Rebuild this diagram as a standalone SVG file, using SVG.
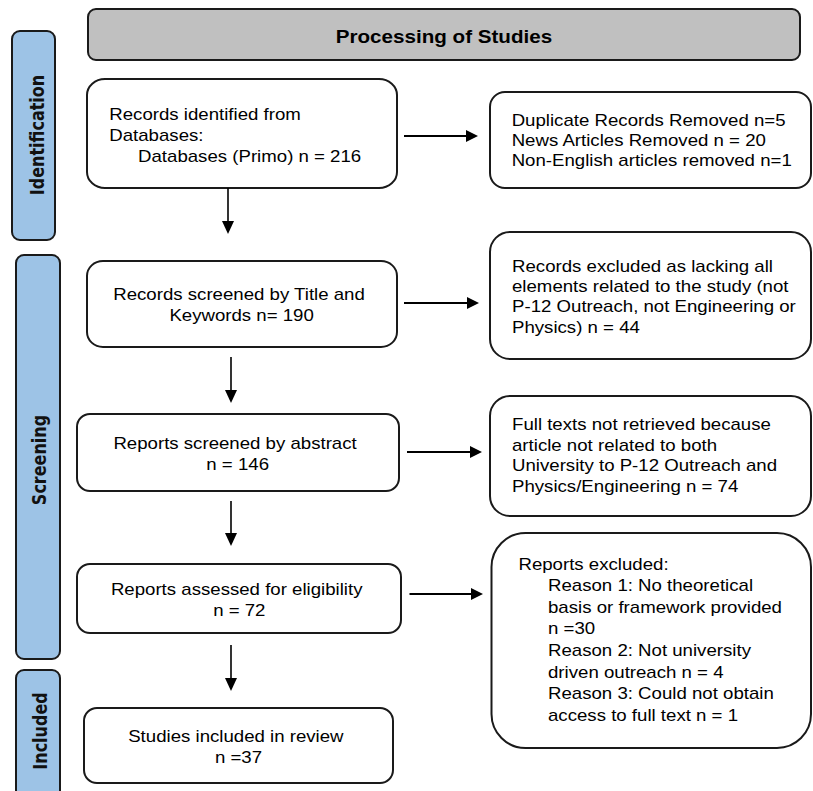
<svg xmlns="http://www.w3.org/2000/svg" width="813" height="791" viewBox="0 0 813 791">
<defs>
<style>
.box{fill:#ffffff;stroke:#1a1a1a;stroke-width:2}
.pill{fill:#9dc3e6;stroke:#1a1a1a;stroke-width:2}
.hdr{fill:#c0c0c0;stroke:#1a1a1a;stroke-width:2}
.t{font-family:"Liberation Sans",Arial,sans-serif;font-size:16px;fill:#000}
.c{text-anchor:middle}
.h{font-family:"Liberation Sans",Arial,sans-serif;font-size:17.7px;font-weight:bold;fill:#000;text-anchor:middle}
.side{font-family:"DejaVu Sans",Verdana,sans-serif;font-size:16px;font-weight:bold;fill:#111;text-anchor:middle}
.ah{stroke:#000;stroke-width:2;fill:none}
.av{stroke:#000;stroke-width:1.6;fill:none}
</style>
<marker id="mh" markerUnits="userSpaceOnUse" markerWidth="13" markerHeight="13" refX="6" refY="6" orient="auto" overflow="visible">
<path d="M0,0 L12,6 L0,12 z" fill="#000"/>
</marker>
<marker id="mv" markerUnits="userSpaceOnUse" markerWidth="14" markerHeight="12" refX="6" refY="6" orient="auto" overflow="visible">
<path d="M0,0 L13,6 L0,12 z" fill="#000"/>
</marker>
</defs>

<g id="stage-identification">
<rect class="pill" x="12" y="31" width="43" height="209" rx="8" ry="8"/>
<text class="side" transform="translate(43.5,135) scale(1.165,1) rotate(-90)" x="0" y="0">Identification</text>
</g>
<g id="stage-screening">
<rect class="pill" x="16" y="255" width="44" height="404" rx="8" ry="8"/>
<text class="side" transform="translate(45.5,460) scale(1.165,1) rotate(-90)" x="0" y="0">Screening</text>
</g>
<g id="stage-included">
<rect class="pill" x="16" y="670" width="44" height="140" rx="8" ry="8"/>
<text class="side" transform="translate(46.5,731) scale(1.165,1) rotate(-90)" x="0" y="0">Included</text>
</g>

<g id="header">
<rect class="hdr" x="88" y="9" width="712" height="51" rx="8" ry="8"/>
<text class="h" transform="scale(1.165,1)" x="381.1" y="43">Processing of Studies</text>
</g>

<g id="records-identified">
<rect class="box" x="87" y="79" width="310" height="109" rx="18" ry="16"/>
<text class="t" transform="scale(1.165,1)">
<tspan x="93.8" y="120">Records identified from</tspan>
<tspan x="93.8" y="141.5">Databases:</tspan>
<tspan x="118.5" y="162.5">Databases (Primo) n = 216</tspan>
</text>
</g>

<g id="duplicates-removed">
<rect class="box" x="490" y="92" width="321" height="96" rx="15" ry="15"/>
<text class="t" transform="scale(1.165,1)">
<tspan x="439.2" y="126.5">Duplicate Records Removed n=5</tspan>
<tspan x="439.2" y="146">News Articles Removed n = 20</tspan>
<tspan x="439.2" y="165.7">Non-English articles removed n=1</tspan>
</text>
</g>

<g id="records-screened">
<rect class="box" x="87" y="261" width="310" height="86" rx="16" ry="15"/>
<text class="t c" transform="scale(1.165,1)">
<tspan x="207.4" y="300">Records screened by Title and</tspan>
<tspan x="207.4" y="320.7">Keywords n= 190</tspan>
</text>
</g>

<g id="records-excluded">
<rect class="box" x="490" y="232" width="321" height="127" rx="20" ry="20"/>
<text class="t" transform="scale(1.165,1)">
<tspan x="439.5" y="271.7">Records excluded as lacking all</tspan>
<tspan x="439.5" y="292">elements related to the study (not</tspan>
<tspan x="439.5" y="312.4">P-12 Outreach, not Engineering or</tspan>
<tspan x="439.5" y="332.8">Physics) n = 44</tspan>
</text>
</g>

<g id="reports-screened">
<rect class="box" x="77" y="414" width="322" height="77" rx="13" ry="13"/>
<text class="t c" transform="scale(1.165,1)">
<tspan x="204" y="449">Reports screened by abstract</tspan>
<tspan x="204" y="470">n = 146</tspan>
</text>
</g>

<g id="not-retrieved">
<rect class="box" x="490" y="396" width="321" height="120" rx="20" ry="20"/>
<text class="t" transform="scale(1.165,1)">
<tspan x="439.5" y="430">Full texts not retrieved because</tspan>
<tspan x="439.5" y="450.7">article not related to both</tspan>
<tspan x="439.5" y="471.5">University to P-12 Outreach and</tspan>
<tspan x="439.5" y="492.3">Physics/Engineering n = 74</tspan>
</text>
</g>

<g id="reports-assessed">
<rect class="box" x="77" y="564" width="324" height="69" rx="13" ry="13"/>
<text class="t c" transform="scale(1.165,1)">
<tspan x="205.4" y="595">Reports assessed for eligibility</tspan>
<tspan x="205.4" y="616">n = 72</tspan>
</text>
</g>

<g id="reports-excluded">
<rect class="box" x="491.5" y="533" width="319.5" height="215" rx="34" ry="34"/>
<text class="t" transform="scale(1.165,1)">
<tspan x="445" y="570">Reports excluded:</tspan>
<tspan x="470.4" y="591">Reason 1: No theoretical</tspan>
<tspan x="470.4" y="612.7">basis or framework provided</tspan>
<tspan x="470.4" y="634.3">n =30</tspan>
<tspan x="470.4" y="656">Reason 2: Not university</tspan>
<tspan x="470.4" y="677.7">driven outreach n = 4</tspan>
<tspan x="470.4" y="699.3">Reason 3: Could not obtain</tspan>
<tspan x="470.4" y="721">access to full text n = 1</tspan>
</text>
</g>

<g id="studies-included">
<rect class="box" x="84" y="708" width="309" height="75" rx="13" ry="13"/>
<text class="t c" transform="scale(1.165,1)">
<tspan x="204.7" y="741.7">Studies included in review</tspan>
<tspan x="204.7" y="763.3">n =37</tspan>
</text>
</g>

<g id="connectors">
<line class="ah" x1="404" y1="136" x2="472" y2="136" marker-end="url(#mh)"/>
<line class="ah" x1="404" y1="303" x2="473" y2="303" marker-end="url(#mh)"/>
<line class="ah" x1="407" y1="452" x2="476" y2="452" marker-end="url(#mh)"/>
<line class="ah" x1="409.5" y1="594" x2="477" y2="594" marker-end="url(#mh)"/>
<line class="av" x1="228" y1="188" x2="228" y2="227" marker-end="url(#mv)"/>
<line class="av" x1="231" y1="357" x2="231" y2="396" marker-end="url(#mv)"/>
<line class="av" x1="231" y1="501" x2="231" y2="539" marker-end="url(#mv)"/>
<line class="av" x1="231" y1="645" x2="231" y2="684" marker-end="url(#mv)"/>
</g>
</svg>
